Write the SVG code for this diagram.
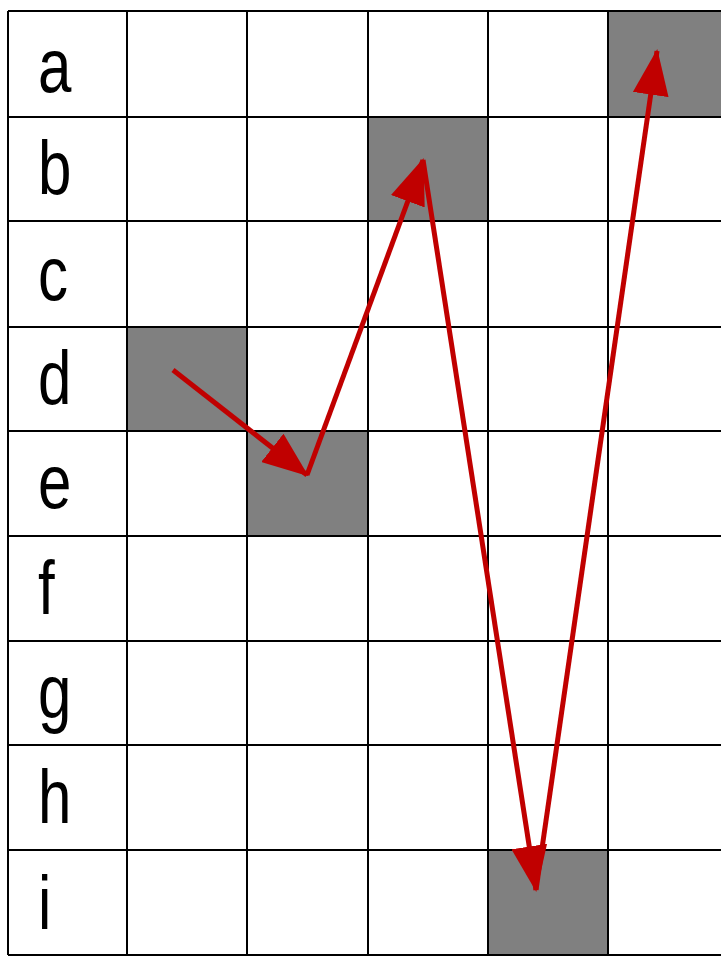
<svg xmlns="http://www.w3.org/2000/svg" width="721" height="956" viewBox="0 0 721 956">
<style>
.grid{stroke:#000;stroke-width:2;fill:none}
.shade{fill:#808080}
.lbl{font-family:"Liberation Sans",Arial,sans-serif;font-size:60px;fill:#000}
.arr{stroke:#C00000;stroke-width:5;fill:none;marker-end:url(#ah)}
</style>
<defs>
<marker id="ah" markerUnits="userSpaceOnUse" viewBox="0 0 46 36" refX="44" refY="18" markerWidth="46" markerHeight="36" orient="auto">
<path d="M0,0 L46,18 L0,36 z" fill="#C00000"/>
</marker>
</defs>
<rect width="721" height="956" fill="#fff"/>
<g id="shaded">
<rect class="shade" x="608" y="11" width="113" height="106"/>
<rect class="shade" x="368" y="117" width="120" height="104"/>
<rect class="shade" x="127" y="327" width="120" height="104"/>
<rect class="shade" x="247" y="431" width="121" height="105"/>
<rect class="shade" x="488" y="850" width="120" height="105"/>
</g>
<g id="grid" class="grid">
<path d="M8,11 H721 M8,117 H721 M8,221 H721 M8,327 H721 M8,431 H721 M8,536 H721 M8,641 H721 M8,745 H721 M8,850 H721 M8,955 H721"/>
<path d="M8,11 V955 M127,11 V955 M247,11 V955 M368,11 V955 M488,11 V955 M608,11 V955"/>
</g>
<g id="labels" class="lbl">
<text transform="translate(38,92) scale(1,1.28)">a</text>
<text transform="translate(38,194) scale(1,1.28)">b</text>
<text transform="translate(38,300) scale(1,1.28)">c</text>
<text transform="translate(38,404) scale(1,1.28)">d</text>
<text transform="translate(38,508) scale(1,1.28)">e</text>
<text transform="translate(38,614) scale(1,1.28)">f</text>
<text transform="translate(38,718) scale(1,1.28)">g</text>
<text transform="translate(38,823) scale(1,1.28)">h</text>
<text transform="translate(38,929) scale(1,1.28)">i</text>
</g>
<g id="connectors">
<line class="arr" x1="173" y1="370" x2="307" y2="475"/>
<line class="arr" x1="307" y1="475" x2="423" y2="160"/>
<line class="arr" x1="423" y1="160" x2="536" y2="890"/>
<line class="arr" x1="536" y1="890" x2="657" y2="51"/>
</g>
</svg>
